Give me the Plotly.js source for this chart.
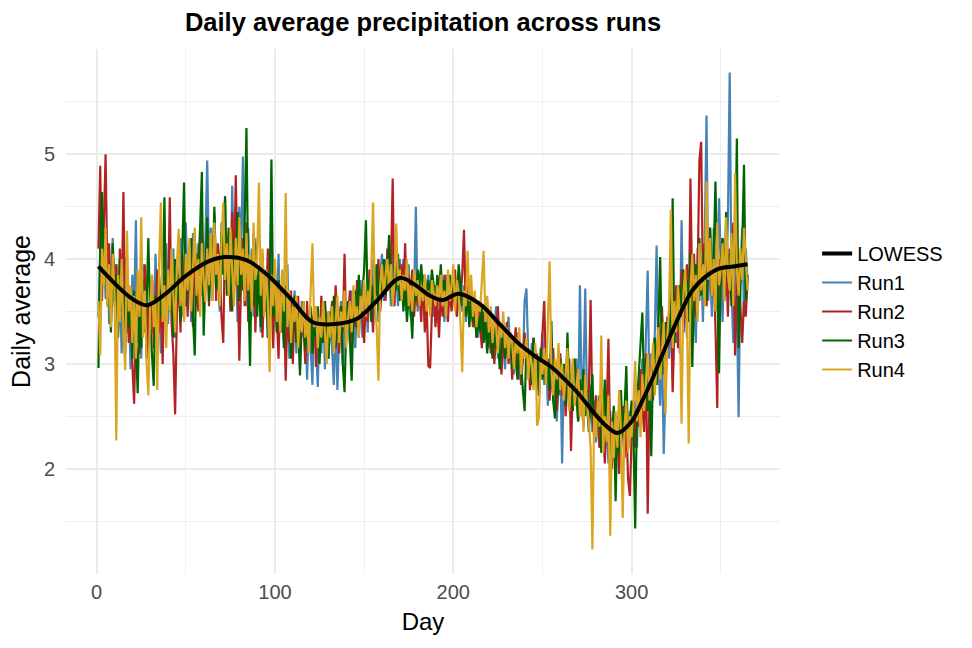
<!DOCTYPE html>
<html>
<head>
<meta charset="utf-8">
<script src="https://cdn.plot.ly/plotly-3.0.1.min.js"></script>
<style>html,body{margin:0;padding:0;background:#fff;}#chart{width:972px;height:648px;}</style>
</head>
<body>
<div id="chart"></div>
<script>
// Daily averages per run (day 1..365)
const run1 = [
3.45,4.10,3.85,4.30,3.62,4.05,3.38,3.90,4.20,3.55,
3.95,3.40,3.80,3.10,3.72,4.02,3.30,3.65,2.95,3.85,
3.50,4.37,3.20,3.70,3.05,3.95,3.40,3.78,3.15,3.60,
3.85,3.30,4.05,3.45,3.70,3.10,3.92,3.55,4.15,3.38,
3.80,3.50,4.10,3.25,3.95,3.60,4.20,3.45,3.85,4.35,
3.70,4.05,3.40,4.25,3.85,3.55,4.15,3.75,4.40,3.65,
4.20,4.94,3.90,4.30,3.60,4.45,3.85,4.10,3.50,4.35,
3.95,4.60,3.75,4.25,3.55,4.70,3.90,4.15,3.40,4.50,
4.05,4.98,3.80,3.55,4.30,3.70,4.10,3.45,4.20,3.60,
3.85,3.30,4.00,3.55,3.90,3.25,3.75,4.10,3.45,3.70,
3.50,4.05,3.30,3.80,3.20,3.65,3.95,3.05,3.55,3.35,
3.70,3.10,3.50,2.95,3.60,3.25,3.45,2.85,3.40,3.15,
2.80,3.55,3.20,2.78,3.45,3.10,3.60,2.95,3.35,3.05,
3.50,3.20,2.80,3.45,2.75,3.30,3.60,3.00,3.45,3.25,
3.55,3.20,3.70,3.40,3.15,3.60,3.35,3.80,3.25,3.55,
3.70,3.30,3.85,3.50,4.00,3.65,3.95,3.40,3.85,4.05,
3.60,4.00,3.75,3.95,3.55,4.10,3.70,3.90,3.55,4.00,
3.75,4.00,3.80,3.60,3.95,3.45,3.85,3.65,4.50,3.50,
3.80,3.55,3.75,3.40,3.70,3.85,3.50,3.65,3.45,3.75,
3.55,3.80,3.50,3.70,3.40,3.85,3.60,3.75,3.55,3.90,
3.70,3.45,3.85,3.60,3.50,3.75,3.40,3.65,3.55,3.45,
3.60,3.35,3.55,3.25,3.50,3.20,3.45,3.30,3.60,3.15,
3.40,3.10,3.30,3.55,3.05,3.35,3.15,3.25,2.95,3.30,
3.45,3.05,3.25,2.90,3.15,3.30,2.85,3.10,3.00,3.60,
3.72,3.10,2.90,3.20,2.85,3.15,2.75,3.05,2.95,3.30,
2.80,3.10,2.60,3.00,2.85,2.70,2.95,2.45,2.80,3.05,
2.05,2.90,2.60,3.10,2.75,2.50,2.95,2.65,3.05,2.55,
3.75,2.70,2.90,3.72,2.55,2.40,2.80,2.35,2.65,2.25,
2.60,2.20,2.50,2.75,2.15,2.45,2.05,2.55,2.30,2.10,
2.50,2.25,2.60,2.15,2.45,2.35,2.70,2.20,2.55,2.40,
2.30,2.65,2.20,2.85,2.50,3.05,2.55,3.25,3.89,2.70,
3.10,2.75,3.30,4.13,3.00,2.60,3.20,2.14,2.90,3.40,
3.05,3.55,2.85,3.60,3.20,3.75,3.10,4.37,3.30,3.65,
3.25,3.90,3.40,4.05,3.55,3.20,4.10,3.60,3.95,3.40,
4.20,5.37,3.60,4.00,3.45,4.30,3.75,3.50,4.58,3.85,
3.40,4.10,3.65,4.40,5.78,3.70,3.20,4.25,3.55,2.49,
3.90,4.30,3.45,4.10,3.80];

const run2 = [
4.10,4.89,3.60,4.30,5.00,3.85,4.15,3.40,4.05,3.70,
3.95,3.30,4.10,3.55,4.64,3.45,3.80,3.20,3.65,3.00,
2.62,3.40,3.85,3.10,3.70,3.35,3.95,3.05,3.55,3.25,
3.80,3.15,3.60,3.90,3.30,3.70,3.00,3.85,3.45,3.60,
4.59,3.40,3.10,2.52,3.50,3.85,3.30,4.05,3.60,3.95,
3.45,4.10,3.70,3.35,4.20,3.80,3.50,4.30,3.65,4.00,
3.75,4.25,3.55,4.05,3.85,4.40,3.60,4.15,3.90,3.45,
3.20,4.30,3.85,4.10,3.50,4.45,3.70,4.80,3.95,3.03,
3.80,4.20,3.55,4.35,3.40,4.00,3.65,4.25,3.30,3.85,
3.60,4.05,3.25,3.80,3.50,4.10,3.35,3.70,3.15,3.90,
3.45,3.05,3.75,3.30,3.60,2.84,3.50,3.20,3.70,3.00,
3.55,3.25,3.65,3.10,3.45,3.35,3.00,3.60,3.20,3.50,
3.30,3.55,2.97,3.40,3.15,3.65,3.25,3.45,3.05,3.50,
3.35,3.60,3.20,3.75,3.40,3.10,3.55,3.30,4.05,3.25,
3.45,3.70,3.15,3.55,3.35,3.80,3.25,3.60,3.45,3.20,
3.65,3.40,3.90,3.55,3.30,3.85,3.65,4.00,3.50,3.75,
3.95,3.60,4.10,3.70,3.90,4.77,3.55,4.05,3.80,3.65,
3.95,3.70,4.15,3.50,3.85,3.60,3.90,3.45,3.75,3.55,
3.70,3.40,3.85,3.30,3.60,2.98,2.96,3.50,3.75,3.35,
3.60,3.25,3.70,3.45,3.85,3.55,3.40,3.75,3.50,3.65,
3.90,3.45,3.70,3.60,3.85,4.28,3.50,3.75,3.40,3.65,
3.35,3.55,3.25,3.60,3.40,3.15,3.50,3.30,3.20,3.45,
3.10,3.35,3.00,3.30,3.55,3.15,2.90,3.25,3.05,3.40,
3.00,3.25,2.85,3.15,3.35,2.95,3.20,2.80,3.05,3.30,
2.95,3.15,2.75,3.05,3.25,2.85,3.10,2.70,3.00,3.20,
3.60,2.85,3.05,2.65,2.95,3.15,2.75,2.55,2.90,3.10,
2.70,2.95,2.50,2.85,3.05,2.17,2.80,2.60,2.95,2.45,
2.85,2.65,2.40,2.90,2.55,2.75,3.61,2.50,2.30,2.70,
2.45,2.20,2.60,2.35,2.05,2.55,3.24,2.25,2.00,2.40,
2.15,2.50,1.95,2.35,2.60,2.10,2.45,1.90,1.74,2.30,
2.55,2.20,2.75,2.40,2.95,2.60,2.35,3.10,1.57,2.70,
3.00,2.65,3.25,2.80,3.40,2.95,3.55,3.10,2.75,3.45,
3.20,3.60,2.73,3.35,3.75,3.15,3.50,3.90,3.30,3.65,
3.95,3.40,4.77,3.60,4.05,3.45,3.85,4.94,5.12,3.70,
4.15,3.55,3.95,4.30,3.65,3.90,3.35,2.58,4.00,3.75,
4.20,3.60,3.95,3.45,4.10,3.80,4.35,3.08,3.70,4.05,
3.55,3.20,3.60,3.45,3.80];

const run3 = [
2.96,4.10,4.64,3.80,4.25,3.55,3.95,3.30,4.15,3.60,
3.85,3.25,4.00,3.50,3.75,3.10,3.90,3.35,3.65,3.05,
3.70,3.20,2.72,3.55,3.15,3.80,3.30,3.60,4.20,3.40,
3.10,2.79,3.65,3.25,3.85,3.45,3.70,4.59,3.35,3.90,
3.50,3.75,3.25,4.00,3.60,3.85,3.40,4.10,4.73,3.55,
3.95,3.70,4.20,3.45,3.08,4.05,3.75,4.30,4.83,3.27,
3.95,4.40,3.60,4.15,3.80,4.50,3.70,4.05,3.55,4.25,
3.85,4.60,3.65,4.30,3.90,3.50,4.20,3.75,4.45,3.60,
4.10,3.70,4.35,5.25,3.80,2.98,4.00,3.55,4.15,3.45,
3.90,3.35,4.05,3.60,3.80,3.25,3.70,4.95,3.45,3.65,
3.30,3.80,3.40,3.60,3.15,3.75,3.35,3.55,3.05,3.45,
3.65,3.20,3.50,2.89,3.40,3.60,3.15,3.45,3.30,3.55,
3.10,3.40,3.25,3.55,3.00,3.45,3.20,3.60,3.35,3.05,
3.50,3.25,3.65,3.15,3.45,3.30,3.55,3.00,2.73,3.40,
3.60,3.25,2.84,3.50,3.70,3.35,3.85,3.45,3.65,3.90,
4.37,3.55,3.80,3.40,3.75,3.60,3.95,3.50,3.85,3.70,
4.00,3.65,3.90,4.23,3.75,3.55,3.95,3.70,4.05,3.60,
3.85,3.50,3.75,3.40,3.65,3.55,3.24,3.80,3.60,3.90,
3.75,3.95,3.70,3.85,3.60,3.80,3.65,3.90,3.75,3.55,
3.85,3.70,3.95,3.60,3.80,3.50,3.75,3.85,3.65,3.70,
3.80,3.60,3.95,3.75,3.55,3.70,3.45,3.65,3.35,3.60,
3.40,3.50,3.25,3.45,3.30,3.55,3.20,3.40,3.10,3.35,
3.25,3.05,3.40,3.15,3.30,2.95,3.20,3.35,3.05,3.25,
3.10,3.30,2.95,3.20,3.05,2.85,3.15,3.00,2.75,2.55,
3.20,2.90,3.10,2.80,3.25,2.95,3.05,2.70,3.15,2.85,
3.10,2.80,3.00,2.75,3.41,2.65,2.48,2.95,2.70,3.05,
2.80,3.00,2.60,3.30,2.75,2.90,2.55,3.05,2.70,2.45,
2.85,2.60,2.95,2.50,2.75,2.35,2.65,2.90,2.30,2.55,
2.40,2.70,2.15,2.55,2.85,2.25,2.50,2.00,2.35,2.60,
1.69,2.40,2.15,2.75,2.30,2.55,2.98,2.20,2.45,2.65,
2.35,1.43,2.60,2.90,3.20,3.49,2.75,3.05,2.55,2.85,
2.12,2.95,3.25,2.80,3.35,4.02,3.10,2.90,3.40,3.15,
3.50,3.30,4.58,3.20,3.60,3.35,3.75,3.45,3.90,3.55,
3.80,3.40,4.05,2.97,3.70,3.95,3.50,4.20,3.65,3.85,
4.10,3.60,3.95,4.30,3.75,4.00,4.74,3.70,2.91,3.95,
4.20,3.65,4.45,3.80,4.05,3.55,4.25,3.90,5.15,3.15,
3.75,4.10,4.90,3.60,3.85];

const run4 = [
3.60,3.08,4.10,3.75,4.30,3.55,3.95,3.35,4.05,3.70,
2.27,3.85,3.40,4.00,3.30,2.94,4.27,3.50,3.75,3.20,
3.65,3.05,3.90,3.45,4.40,3.25,3.70,3.00,2.70,3.55,
3.85,3.35,3.60,2.75,3.95,4.54,3.40,3.75,3.15,3.90,
3.50,4.10,3.65,3.30,3.95,4.29,3.55,3.80,3.40,4.05,
3.70,4.20,3.50,3.90,4.30,3.65,4.00,3.45,4.15,3.80,
3.59,4.10,3.75,4.25,3.60,4.35,3.85,4.05,3.55,4.20,
4.54,3.80,4.15,3.65,4.30,3.90,3.55,4.20,3.75,4.40,
3.85,4.10,3.60,4.25,3.70,4.05,3.50,4.35,3.80,4.00,
4.73,3.65,4.10,3.45,3.90,3.60,2.92,3.85,3.55,4.00,
3.40,3.75,3.30,3.90,3.50,4.63,3.35,3.70,3.20,3.55,
3.40,3.65,3.15,3.50,3.30,3.60,3.25,3.45,3.10,3.70,
4.15,3.35,3.55,3.15,3.45,3.25,3.60,3.30,3.00,3.50,
3.25,3.55,3.10,3.40,3.65,3.20,3.50,3.35,3.70,3.15,
3.45,3.60,3.30,3.75,3.40,3.55,3.25,3.65,3.50,3.80,
3.45,3.70,3.55,3.90,4.54,3.60,3.35,2.84,3.75,3.95,
3.65,3.85,4.00,3.70,3.95,3.55,3.80,4.34,3.75,3.90,
3.60,3.85,3.70,4.00,3.55,3.75,3.50,3.90,3.65,3.80,
3.55,3.75,3.60,3.85,3.50,3.70,3.45,3.80,3.65,3.55,
3.75,3.60,3.85,3.55,3.70,3.45,3.90,3.60,3.75,3.95,
3.50,3.80,3.65,3.40,2.92,3.70,3.55,4.08,3.60,3.85,
3.45,3.70,3.35,3.60,3.50,3.80,4.08,3.40,3.65,3.30,
3.55,3.20,3.45,3.35,3.10,3.40,3.25,3.50,3.15,3.35,
3.05,3.30,3.20,2.95,3.25,3.10,3.35,2.90,3.15,3.05,
3.25,2.85,3.10,3.00,2.75,3.20,2.41,2.49,3.05,2.90,
3.15,2.80,3.30,3.98,2.95,2.70,3.05,2.85,3.20,2.75,
3.00,2.65,2.90,3.15,2.55,2.85,3.05,2.60,2.80,2.95,
2.50,2.75,2.35,2.90,2.60,2.45,2.20,1.23,2.55,2.30,
2.65,2.40,3.27,2.15,2.50,2.25,2.70,1.36,2.45,2.10,
2.55,2.20,2.75,2.35,1.53,2.40,2.65,2.15,2.50,2.30,
2.60,3.03,2.45,2.75,2.30,2.90,2.55,2.80,3.10,2.65,
2.95,3.20,2.70,3.05,3.35,2.85,3.15,3.40,2.52,3.25,
3.55,4.47,3.15,3.60,3.30,3.75,3.45,2.43,3.65,3.90,
3.50,2.24,3.70,4.05,3.60,3.85,3.40,4.15,3.70,3.95,
3.55,4.74,3.80,4.20,3.65,4.00,3.50,4.35,3.75,3.90,
4.15,3.60,4.40,3.85,3.70,4.25,3.55,4.82,3.90,3.65,
4.10,3.80,4.30,3.95,3.70];

// LOWESS curve, read at selected days
const lowessDay = [1,10,20,28,38,50,63,72,84,95,110,121,134,146,157,170,178,187,194,203,215,226,237,247,255,262,270,278,285,292,300,306,312,318,323,334,342,349,357,365];
const lowessVal = [3.93,3.77,3.62,3.56,3.66,3.84,3.98,4.02,3.99,3.86,3.60,3.40,3.38,3.43,3.60,3.82,3.76,3.65,3.61,3.67,3.57,3.38,3.19,3.06,2.97,2.86,2.72,2.55,2.42,2.34,2.45,2.65,2.87,3.12,3.32,3.70,3.84,3.91,3.93,3.95];

const seriesNames = ['Run1','Run2','Run3','Run4'];
const seriesColors = ['#4682B4','#B22222','#006400','#DAA520'];
const xTicks = [0,100,200,300];
const xMinor = [50,150,250,350];
const yTicks = [2,3,4,5];
const yMinor = [1.5,2.5,3.5,4.5,5.5];

const runs = [run1, run2, run3, run4];
const days = run1.map((_, i) => i + 1);
const FONT = 'Liberation Sans, Arial, Helvetica, sans-serif';

const traces = runs.map((vals, k) => ({
  type: 'scatter', mode: 'lines', name: seriesNames[k],
  x: days, y: vals,
  line: {color: seriesColors[k], width: 2.2},
  legendrank: k + 2, hoverinfo: 'skip'
}));
traces.push({
  type: 'scatter', mode: 'lines', name: 'LOWESS',
  x: lowessDay, y: lowessVal,
  line: {color: '#000000', width: 4, shape: 'spline', smoothing: 1},
  legendrank: 1, hoverinfo: 'skip'
});

const layout = {
  width: 972, height: 648,
  margin: {l: 66, r: 192, t: 49, b: 74},
  paper_bgcolor: '#ffffff', plot_bgcolor: '#ffffff',
  font: {family: FONT, color: '#000000'},
  title: {
    text: '<b>Daily average precipitation across runs</b>',
    font: {family: FONT, size: 25.5, color: '#000000'},
    x: 0.5, xref: 'paper', xanchor: 'center',
    y: 1 - 22/648, yref: 'container', yanchor: 'middle'
  },
  xaxis: {
    range: [-17.2, 383.2], tickmode: 'array', tickvals: xTicks,
    showgrid: true, gridcolor: '#EBEBEB', gridwidth: 2,
    minor: {tickmode: 'array', tickvals: xMinor, showgrid: true, gridcolor: '#EFEFEF', gridwidth: 1},
    zeroline: false, showline: false, ticks: '',
    ticklabelstandoff: 4,
    tickfont: {family: FONT, size: 20, color: '#4D4D4D'},
    title: {text: 'Day', font: {family: FONT, size: 24, color: '#000000'}, standoff: 11}
  },
  yaxis: {
    range: [0.995, 6.005], tickmode: 'array', tickvals: yTicks,
    showgrid: true, gridcolor: '#EBEBEB', gridwidth: 2,
    minor: {tickmode: 'array', tickvals: yMinor, showgrid: true, gridcolor: '#EFEFEF', gridwidth: 1},
    zeroline: false, showline: false, ticks: '',
    ticklabelstandoff: 10,
    tickfont: {family: FONT, size: 20, color: '#4D4D4D'},
    title: {text: 'Daily average', font: {family: FONT, size: 25, color: '#000000'}, standoff: 6}
  },
  showlegend: true,
  legend: {
    x: 1.052, xanchor: 'left', y: 0.5, yanchor: 'middle',
    font: {family: FONT, size: 20, color: '#000000'},
    bgcolor: 'rgba(0,0,0,0)', borderwidth: 0,
    itemwidth: 30, tracegroupgap: 0
  }
};

Plotly.newPlot('chart', traces, layout, {displayModeBar: false, staticPlot: true});
</script>
</body>
</html>
